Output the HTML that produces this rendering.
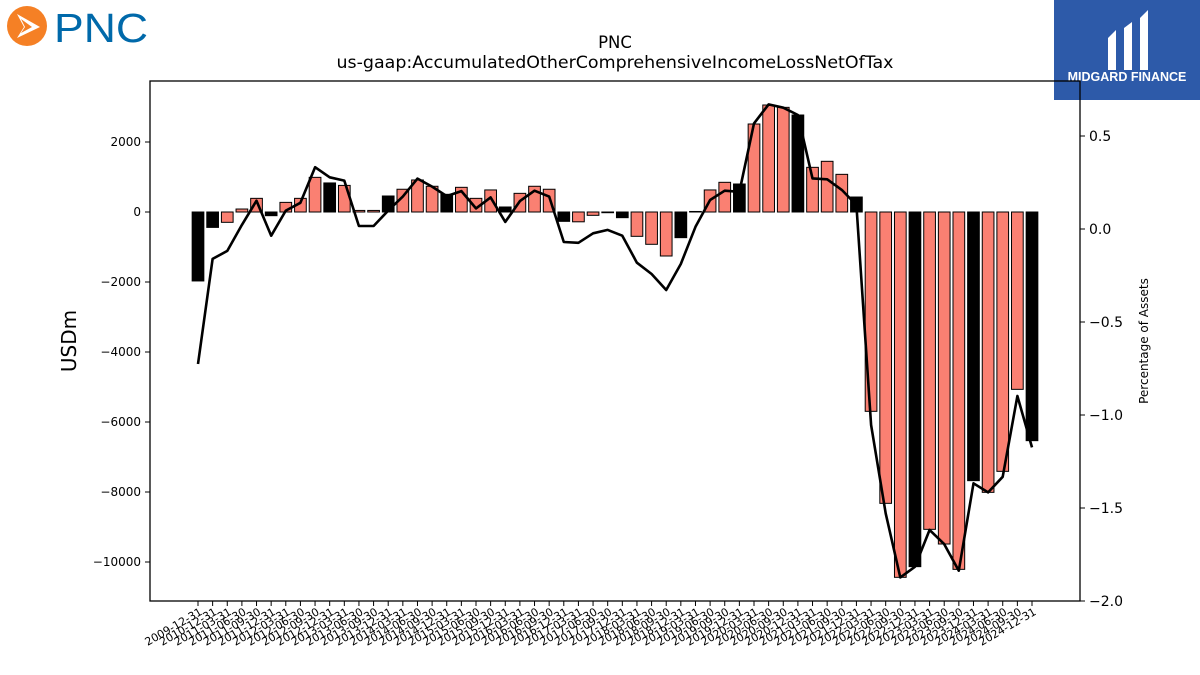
<!DOCTYPE html>
<html><head><meta charset="utf-8"><style>
body{margin:0;background:#fff;width:1200px;height:675px;overflow:hidden;font-family:"DejaVu Sans","Liberation Sans",sans-serif;}
svg{display:block}
</style></head><body>
<svg id="c" width="1200" height="675" xmlns="http://www.w3.org/2000/svg" font-family="DejaVu Sans, Liberation Sans, sans-serif">
<g>
<circle cx="27" cy="26" r="20" fill="#f58025"/>
<path d="M17 14 L40 27 L17 38 L24 27 Z" fill="#fff"/>
<path d="M21 19 L32 27 L21 33 L25 27 Z" fill="#f58025"/>
<text x="54" y="42" font-family="Liberation Sans, sans-serif" font-size="41" fill="#0069aa" textLength="94" lengthAdjust="spacingAndGlyphs">PNC</text>
</g>
<g>
<rect x="1054" y="0" width="146" height="100" fill="#2d5aa9"/>
<path d="M1108 38 L1116 30 L1116 70 L1108 70 Z M1124 28 L1132 22 L1132 70 L1124 70 Z M1140 18 L1148 10 L1148 70 L1140 70 Z" fill="#fff"/>
<text x="1127" y="81" text-anchor="middle" font-family="Liberation Sans, sans-serif" font-size="12.5" font-weight="bold" fill="#fff">MIDGARD FINANCE</text>
</g>
<text x="615" y="48" text-anchor="middle" font-size="16.5">PNC</text>
<text x="615" y="68" text-anchor="middle" font-size="16.5" textLength="557" lengthAdjust="spacingAndGlyphs">us-gaap:AccumulatedOtherComprehensiveIncomeLossNetOfTax</text>
<g id="bars"></g><g id="axes"></g>
</svg>
<script>
const usdValues=[-1970,-440,-295,85,390,-105,275,390,990,830,760,45,45,457,650,915,735,505,705,390,630,143,533,735,650,-267,-280,-95,-20,-162,-695,-923,-1257,-733,15,630,848,800,2514,3057,2990,2771,1276,1448,1076,428,-5695,-8324,-10438,-10133,-9067,-9486,-10210,-7676,-8010,-7410,-5067,-6533];
const pctValues=[-0.726,-0.161,-0.118,0.022,0.152,-0.036,0.099,0.141,0.332,0.278,0.26,0.016,0.016,0.099,0.174,0.271,0.228,0.177,0.204,0.111,0.17,0.038,0.15,0.206,0.174,-0.07,-0.074,-0.023,-0.005,-0.036,-0.181,-0.242,-0.328,-0.188,0.012,0.156,0.206,0.2,0.568,0.67,0.652,0.613,0.272,0.267,0.21,0.129,-1.054,-1.529,-1.873,-1.816,-1.618,-1.694,-1.837,-1.367,-1.416,-1.332,-0.898,-1.174];
const leftTicks=[2000,0,-2000,-4000,-6000,-8000,-10000];
const rightTicks=[0.5,0.0,-0.5,-1.0,-1.5,-2.0];
const dates=["2009-12-31","2010-12-31"];
for(let y=2011;y<=2024;y++)for(const m of["03-31","06-30","09-30","12-31"])dates.push(y+"-"+m);

const NS="http://www.w3.org/2000/svg";
const X0=150,X1=1080,Y0=81,Y1=601;
const xs=i=>198+i*(834/57);
const yL=v=>212-v*0.035;
const yR=v=>229-v*186;
function mk(t,a,p){const e=document.createElementNS(NS,t);for(const k in a)e.setAttribute(k,a[k]);p.appendChild(e);return e;}
const bars=document.getElementById('bars'),axes=document.getElementById('axes');
const bw=11.7;
usdValues.forEach((v,i)=>{
 const y=Math.min(yL(v),yL(0)),h=Math.abs(yL(v)-yL(0));
 const r=mk('rect',{x:xs(i)-bw/2,y:y,width:bw,height:Math.max(h,0.5),fill:dates[i].endsWith('12-31')?'#000':'#fa8072',stroke:'#000','stroke-width':1},bars);
 
 
});
const pts=pctValues.map((v,i)=>xs(i).toFixed(1)+','+yR(v).toFixed(1)).join(' ');
const ln=mk('polyline',{points:pts,fill:'none',stroke:'#000','stroke-width':2.6,'stroke-linejoin':'round'},bars);


const fr=mk('rect',{x:X0,y:Y0,width:X1-X0,height:Y1-Y0,fill:'none',stroke:'#000','stroke-width':1.3},axes);


leftTicks.forEach(v=>{
 const y=yL(v);
 mk('line',{x1:X0-5,x2:X0,y1:y,y2:y,stroke:'#000'},axes);
 const t=mk('text',{x:X0-9,y:y+4,'text-anchor':'end','font-size':12},axes);
 t.textContent=v<0?'\u2212'+(-v):String(v);
 
 
});
rightTicks.forEach(v=>{
 const y=yR(v);
 mk('line',{x1:X1,x2:X1+5,y1:y,y2:y,stroke:'#000'},axes);
 const t=mk('text',{x:X1+9,y:y+5,'font-size':14},axes);
 t.textContent=(v<0?'\u2212':'')+Math.abs(v).toFixed(1);
 
 
});
dates.forEach((d,i)=>{
 const x=xs(i);
 mk('line',{x1:x,x2:x,y1:Y1,y2:Y1+5,stroke:'#000'},axes);
 const t=mk('text',{x:x+5,y:Y1+13,'text-anchor':'end','font-size':11,transform:`rotate(-30 ${x+5} ${Y1+13})`},axes);
 t.textContent=d;
 
 
});
const yl=mk('text',{x:76,y:341,'text-anchor':'middle','font-size':20,transform:'rotate(-90 76 341)'},axes);
yl.textContent='USDm';


const yr=mk('text',{x:1148,y:341,'text-anchor':'middle','font-size':12,transform:'rotate(-90 1148 341)'},axes);
yr.textContent='Percentage of Assets';


</script>
</body></html>
